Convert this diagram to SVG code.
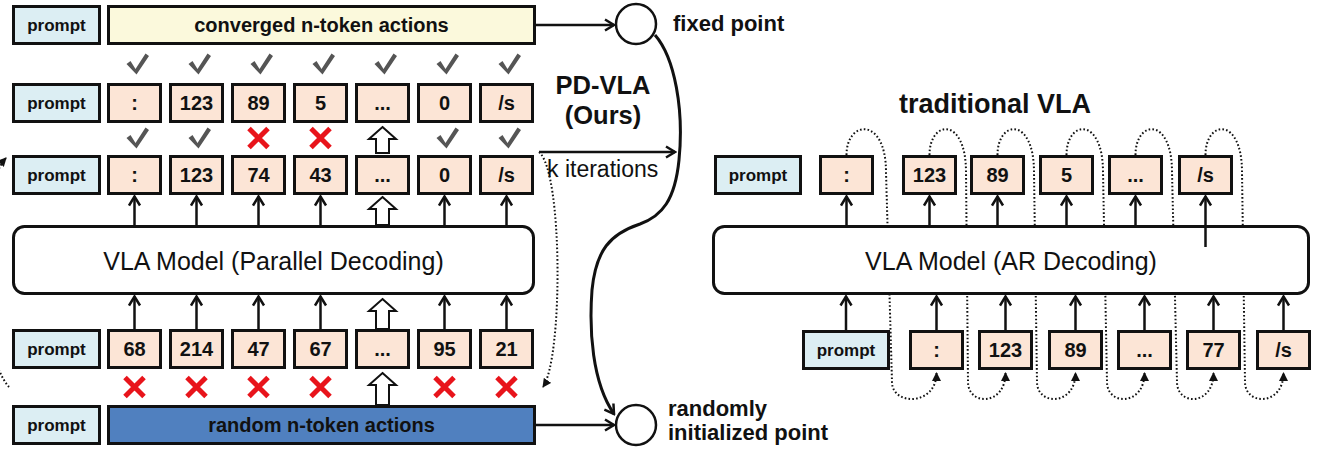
<svg xmlns="http://www.w3.org/2000/svg" xmlns:xlink="http://www.w3.org/1999/xlink" width="1319" height="449" viewBox="0 0 1319 449">
<style>
.pr{fill:#DCEEF3;stroke:#111;stroke-width:3}
.tk{fill:#FCE5D6;stroke:#111;stroke-width:3}
.cv{fill:#FBF9DC;stroke:#111;stroke-width:3}
.rb{fill:#5080BF;stroke:#111;stroke-width:3}
.md{fill:#fff;stroke:#111;stroke-width:3}
.circ{fill:#fff;stroke:#111;stroke-width:2.5}
.b20{font-family:"Liberation Sans",Arial,sans-serif;font-weight:bold;font-size:20px;text-anchor:middle;fill:#111}
.b17{font-family:"Liberation Sans",Arial,sans-serif;font-weight:bold;font-size:17px;text-anchor:middle;fill:#111}
.m25{font-family:"Liberation Sans",Arial,sans-serif;font-size:25px;text-anchor:middle;fill:#111}
.lab{font-family:"Liberation Sans",Arial,sans-serif;font-weight:bold;font-size:22px;fill:#111}
.ttl{font-family:"Liberation Sans",Arial,sans-serif;font-weight:bold;font-size:27px;text-anchor:middle;fill:#111}
.pd{font-family:"Liberation Sans",Arial,sans-serif;font-weight:bold;font-size:25.5px;text-anchor:middle;fill:#111}
.ki{font-family:"Liberation Sans",Arial,sans-serif;font-size:23px;fill:#111}
.ar{stroke:#111;stroke-width:2.5;fill:none;marker-end:url(#chev)}
.dot{stroke:#111;stroke-width:2;fill:none;stroke-dasharray:1.6 2.2;marker-end:url(#dtri)}
.hol{fill:#fff;stroke:#111;stroke-width:2;stroke-linejoin:miter}
.chk{fill:#555}
.xx{stroke:#E8141B;stroke-width:5;fill:none}
</style>
<defs>
<marker id="chev" markerUnits="userSpaceOnUse" markerWidth="14" markerHeight="14" viewBox="0 0 14 14" refX="12" refY="7" orient="auto">
<path d="M3,1.5 L12,7 L3,12.5" fill="none" stroke="#111" stroke-width="2.5"/>
</marker>
<marker id="dtri" markerUnits="userSpaceOnUse" markerWidth="9" markerHeight="9" viewBox="0 0 9 9" refX="8" refY="4.5" orient="auto">
<path d="M0,0 L9,4.5 L0,9 Z" fill="#111"/>
</marker>
<path id="ck" class="chk" d="M-10,0 L-6,-3 L-1,5 L9,-10.5 L12.5,-8 L0,10.5 Z"/>
<path id="xm" class="xx" d="M-9.5,-9.5 L9.5,9.5 M9.5,-9.5 L-9.5,9.5"/>
</defs>

<g id="connectors">
  <path class="dot" d="M846.5,155 C846.5,120 886,116 886,172 L892,382 C892,406 936.5,406 936.5,373"/>
  <path class="dot" d="M929.5,155 C929.5,120 966,116 966,172 L968,382 C968,406 1005.5,406 1005.5,373"/>
  <path class="dot" d="M997.5,155 C997.5,120 1034,116 1034,172 L1037,382 C1037,406 1075.5,406 1075.5,373"/>
  <path class="dot" d="M1066.5,155 C1066.5,120 1103,116 1103,172 L1107,382 C1107,406 1144.5,406 1144.5,373"/>
  <path class="dot" d="M1135.5,155 C1135.5,120 1172,116 1172,172 L1177,382 C1177,406 1213.5,406 1213.5,373"/>
  <path class="dot" d="M1205.5,155 C1205.5,120 1242,116 1242,172 L1245,382 C1245,406 1283.5,406 1283.5,373"/>
  <path class="dot" d="M539,152 C563,172 563,358 543,387"/>
  <path class="dot" d="M9,387 C-24,350 -24,190 6,158"/>
  <path class="ar" d="M134.5,225 V196.5"/><path class="ar" d="M196.5,225 V196.5"/><path class="ar" d="M258.5,225 V196.5"/><path class="ar" d="M320.5,225 V196.5"/><path class="ar" d="M444.5,225 V196.5"/><path class="ar" d="M506.5,225 V196.5"/>
  <path class="ar" d="M134.5,329 V296.5"/><path class="ar" d="M196.5,329 V296.5"/><path class="ar" d="M258.5,329 V296.5"/><path class="ar" d="M320.5,329 V296.5"/><path class="ar" d="M444.5,329 V296.5"/><path class="ar" d="M506.5,329 V296.5"/>
  <path class="hol" d="M382.5,127 L396,139 L389,139 L389,153 L376,153 L376,139 L369,139 Z"/>
  <path class="hol" d="M382.5,197 L396,209 L389,209 L389,225 L376,225 L376,209 L369,209 Z"/>
  <path class="hol" d="M382.5,299 L396,311 L389,311 L389,329 L376,329 L376,311 L369,311 Z"/>
  <path class="hol" d="M382.5,373 L396,385 L389,385 L389,405 L376,405 L376,385 L369,385 Z"/>
  <path class="ar" d="M536,25 H614"/>
  <path class="ar" d="M536,425 H614"/>
  <path class="ar" d="M539,152 H675"/>
  <path d="M655,35 C675,58 684,110 679,160 C675,200 662,216 640,224 C610,234 596,250 592,290 C589,330 592,382 614,414" fill="none" stroke="#111" stroke-width="3" marker-end="url(#chev)"/>
  <path class="ar" d="M846.5,225 V196.5"/><path class="ar" d="M929.5,225 V196.5"/><path class="ar" d="M997.5,225 V196.5"/><path class="ar" d="M1066.5,225 V196.5"/><path class="ar" d="M1135.5,225 V196.5"/>
  <path class="ar" d="M846,330 V296.5"/><path class="ar" d="M936.5,330 V296.5"/><path class="ar" d="M1005.5,330 V296.5"/><path class="ar" d="M1075.5,330 V296.5"/><path class="ar" d="M1144.5,330 V296.5"/><path class="ar" d="M1213.5,330 V296.5"/><path class="ar" d="M1283.5,330 V296.5"/>
</g>

<g id="marks-row1">
  <use href="#ck" x="136.5" y="64"/><use href="#ck" x="198.5" y="64"/><use href="#ck" x="260.5" y="64"/><use href="#ck" x="322.5" y="64"/><use href="#ck" x="384.5" y="64"/><use href="#ck" x="446.5" y="64"/><use href="#ck" x="508.5" y="64"/>
</g>
<g id="marks-row2">
  <use href="#ck" x="136.5" y="138"/><use href="#ck" x="198.5" y="138"/><use href="#xm" x="258.5" y="138"/><use href="#xm" x="320.5" y="138"/><use href="#ck" x="446.5" y="138"/><use href="#ck" x="508.5" y="138"/>
</g>
<g id="marks-row4">
  <use href="#xm" x="134.5" y="387"/><use href="#xm" x="196.5" y="387"/><use href="#xm" x="258.5" y="387"/><use href="#xm" x="320.5" y="387"/><use href="#xm" x="444.5" y="387"/><use href="#xm" x="506.5" y="387"/>
</g>

<g id="row1-prompt"><rect class="pr" x="13.5" y="6.5" width="86" height="37"/><text class="b17" x="56.5" y="31">prompt</text></g>
<g id="row1-converged"><rect class="cv" x="108.5" y="6.5" width="426" height="37"/><text class="b20" x="321.5" y="32">converged n-token actions</text></g>

<g id="row2-prompt"><rect class="pr" x="13.5" y="84.5" width="86" height="37"/><text class="b17" x="56.5" y="109">prompt</text></g>
<g id="row2-t1"><rect class="tk" x="108.5" y="84.5" width="52" height="37"/><text class="b20" x="134.5" y="110">:</text></g>
<g id="row2-t2"><rect class="tk" x="170.5" y="84.5" width="52" height="37"/><text class="b20" x="196.5" y="110">123</text></g>
<g id="row2-t3"><rect class="tk" x="232.5" y="84.5" width="52" height="37"/><text class="b20" x="258.5" y="110">89</text></g>
<g id="row2-t4"><rect class="tk" x="294.5" y="84.5" width="52" height="37"/><text class="b20" x="320.5" y="110">5</text></g>
<g id="row2-t5"><rect class="tk" x="356.5" y="84.5" width="52" height="37"/><text class="b20" x="382.5" y="110">...</text></g>
<g id="row2-t6"><rect class="tk" x="418.5" y="84.5" width="52" height="37"/><text class="b20" x="444.5" y="110">0</text></g>
<g id="row2-t7"><rect class="tk" x="480.5" y="84.5" width="52" height="37"/><text class="b20" x="506.5" y="110">/s</text></g>

<g id="row3-prompt"><rect class="pr" x="13.5" y="156.5" width="86" height="37"/><text class="b17" x="56.5" y="181">prompt</text></g>
<g id="row3-t1"><rect class="tk" x="108.5" y="156.5" width="52" height="37"/><text class="b20" x="134.5" y="182">:</text></g>
<g id="row3-t2"><rect class="tk" x="170.5" y="156.5" width="52" height="37"/><text class="b20" x="196.5" y="182">123</text></g>
<g id="row3-t3"><rect class="tk" x="232.5" y="156.5" width="52" height="37"/><text class="b20" x="258.5" y="182">74</text></g>
<g id="row3-t4"><rect class="tk" x="294.5" y="156.5" width="52" height="37"/><text class="b20" x="320.5" y="182">43</text></g>
<g id="row3-t5"><rect class="tk" x="356.5" y="156.5" width="52" height="37"/><text class="b20" x="382.5" y="182">...</text></g>
<g id="row3-t6"><rect class="tk" x="418.5" y="156.5" width="52" height="37"/><text class="b20" x="444.5" y="182">0</text></g>
<g id="row3-t7"><rect class="tk" x="480.5" y="156.5" width="52" height="37"/><text class="b20" x="506.5" y="182">/s</text></g>

<g id="model-parallel"><rect class="md" x="13.5" y="226.5" width="520" height="67" rx="11"/><text class="m25" x="273.5" y="270">VLA Model (Parallel Decoding)</text></g>

<g id="row4-prompt"><rect class="pr" x="13.5" y="330.5" width="86" height="37"/><text class="b17" x="56.5" y="355">prompt</text></g>
<g id="row4-t1"><rect class="tk" x="108.5" y="330.5" width="52" height="37"/><text class="b20" x="134.5" y="356">68</text></g>
<g id="row4-t2"><rect class="tk" x="170.5" y="330.5" width="52" height="37"/><text class="b20" x="196.5" y="356">214</text></g>
<g id="row4-t3"><rect class="tk" x="232.5" y="330.5" width="52" height="37"/><text class="b20" x="258.5" y="356">47</text></g>
<g id="row4-t4"><rect class="tk" x="294.5" y="330.5" width="52" height="37"/><text class="b20" x="320.5" y="356">67</text></g>
<g id="row4-t5"><rect class="tk" x="356.5" y="330.5" width="52" height="37"/><text class="b20" x="382.5" y="356">...</text></g>
<g id="row4-t6"><rect class="tk" x="418.5" y="330.5" width="52" height="37"/><text class="b20" x="444.5" y="356">95</text></g>
<g id="row4-t7"><rect class="tk" x="480.5" y="330.5" width="52" height="37"/><text class="b20" x="506.5" y="356">21</text></g>

<g id="row5-prompt"><rect class="pr" x="13.5" y="406.5" width="86" height="37"/><text class="b17" x="56.5" y="431">prompt</text></g>
<g id="row5-random"><rect class="rb" x="108.5" y="406.5" width="426" height="37"/><text class="b20" x="321.5" y="432">random n-token actions</text></g>

<g id="fixed-point"><circle class="circ" cx="636" cy="24" r="20"/><text class="lab" x="673" y="31">fixed point</text></g>
<g id="random-point"><circle class="circ" cx="636" cy="425" r="20"/><text class="lab" x="668" y="416">randomly</text><text class="lab" x="668" y="440">initialized point</text></g>
<g id="pdvla-title"><text class="pd" x="603" y="94">PD-VLA</text><text class="pd" x="603" y="124">(Ours)</text></g>
<g id="k-iter"><text class="ki" x="547" y="177">k iterations</text></g>

<g id="trad-title"><text class="ttl" x="995" y="113">traditional VLA</text></g>
<g id="r-top-prompt"><rect class="pr" x="715.5" y="156.5" width="85" height="37"/><text class="b17" x="758" y="181">prompt</text></g>
<g id="r-top-t1"><rect class="tk" x="820.5" y="156.5" width="52" height="37"/><text class="b20" x="846.5" y="182">:</text></g>
<g id="r-top-t2"><rect class="tk" x="903.5" y="156.5" width="52" height="37"/><text class="b20" x="929.5" y="182">123</text></g>
<g id="r-top-t3"><rect class="tk" x="971.5" y="156.5" width="52" height="37"/><text class="b20" x="997.5" y="182">89</text></g>
<g id="r-top-t4"><rect class="tk" x="1040.5" y="156.5" width="52" height="37"/><text class="b20" x="1066.5" y="182">5</text></g>
<g id="r-top-t5"><rect class="tk" x="1109.5" y="156.5" width="52" height="37"/><text class="b20" x="1135.5" y="182">...</text></g>
<g id="r-top-t6"><rect class="tk" x="1179.5" y="156.5" width="52" height="37"/><text class="b20" x="1205.5" y="182">/s</text></g>

<g id="model-ar"><rect class="md" x="713.5" y="226.5" width="595" height="67" rx="11"/><text class="m25" x="1011" y="270">VLA Model (AR Decoding)</text></g>
<g id="ar-output-arrow"><path class="ar" d="M1205.5,247 V196.5"/></g>

<g id="r-bot-prompt"><rect class="pr" x="803.5" y="331.5" width="85" height="37"/><text class="b17" x="846" y="356">prompt</text></g>
<g id="r-bot-t1"><rect class="tk" x="910.5" y="331.5" width="52" height="37"/><text class="b20" x="936.5" y="357">:</text></g>
<g id="r-bot-t2"><rect class="tk" x="979.5" y="331.5" width="52" height="37"/><text class="b20" x="1005.5" y="357">123</text></g>
<g id="r-bot-t3"><rect class="tk" x="1049.5" y="331.5" width="52" height="37"/><text class="b20" x="1075.5" y="357">89</text></g>
<g id="r-bot-t4"><rect class="tk" x="1118.5" y="331.5" width="52" height="37"/><text class="b20" x="1144.5" y="357">...</text></g>
<g id="r-bot-t5"><rect class="tk" x="1187.5" y="331.5" width="52" height="37"/><text class="b20" x="1213.5" y="357">77</text></g>
<g id="r-bot-t6"><rect class="tk" x="1257.5" y="331.5" width="52" height="37"/><text class="b20" x="1283.5" y="357">/s</text></g>
</svg>
